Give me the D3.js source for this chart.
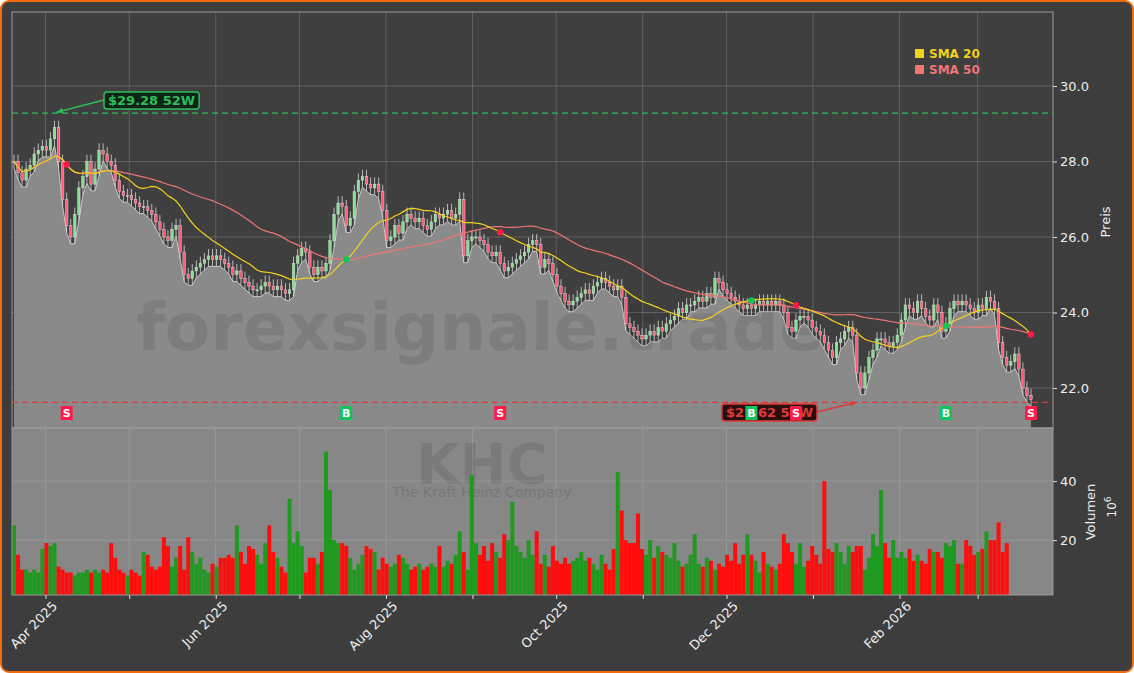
<!DOCTYPE html>
<html><head><meta charset="utf-8">
<script src="https://cdn.jsdelivr.net/npm/d3@7"></script>
<style>
body{margin:0;background:#fff;font-family:"DejaVu Sans",sans-serif}
</style></head><body><div id="wrap"></div>
<script>
// daily closes, 2025-03-20 .. 2026-03-20
var closes = [
28.0,27.7,27.5,27.8,27.9,28.2,28.3,28.4,28.3,28.6,
28.9,28.0,27.0,26.3,26.0,26.6,27.3,27.6,28.0,27.4,
27.8,28.3,28.2,28.0,27.9,27.5,27.2,27.1,27.1,27.0,
26.9,26.8,26.8,26.7,26.6,26.4,26.2,26.0,25.9,26.2,
26.3,25.6,25.0,24.9,25.1,25.2,25.3,25.4,25.5,25.4,
25.5,25.4,25.3,25.2,25.0,25.1,24.9,24.8,24.7,24.6,
24.6,24.7,24.8,24.7,24.6,24.7,24.6,24.5,24.6,25.3,
25.5,25.7,25.6,25.2,25.0,25.2,25.1,25.3,25.9,26.6,
26.9,26.8,26.3,26.5,27.2,27.5,27.6,27.4,27.3,27.4,
27.2,26.7,25.9,26.0,26.3,26.1,26.4,26.6,26.5,26.4,
26.5,26.3,26.2,26.4,26.6,26.5,26.6,26.7,26.5,26.6,
27.0,25.5,25.9,26.0,26.0,25.9,25.8,25.6,25.5,25.6,
25.3,25.1,25.2,25.3,25.4,25.5,25.6,25.8,25.9,25.8,
25.2,25.4,25.3,25.0,24.7,24.5,24.3,24.2,24.3,24.4,
24.5,24.6,24.5,24.7,24.8,24.9,24.8,24.7,24.6,24.7,
24.4,23.7,23.6,23.5,23.4,23.3,23.4,23.5,23.4,23.6,
23.5,23.7,23.8,23.9,24.1,24.0,24.2,24.2,24.3,24.4,
24.3,24.5,24.4,24.9,24.8,24.6,24.5,24.4,24.3,24.2,
24.1,24.2,24.1,24.2,24.3,24.2,24.3,24.2,24.3,24.2,
24.0,23.6,23.5,23.8,23.9,23.9,23.8,23.6,23.5,23.4,
23.2,23.0,22.8,23.2,23.3,23.5,23.6,23.4,22.4,22.0,
22.4,22.8,23.0,23.3,23.3,23.2,23.1,23.2,23.4,23.8,
24.2,24.1,24.0,24.3,24.1,23.9,23.8,24.2,24.0,23.5,
23.7,24.1,24.3,24.2,24.3,24.2,24.1,24.0,24.2,24.1,
24.4,24.3,24.1,23.2,22.8,22.6,22.7,22.9,22.5,22.0,
21.8,21.7];
// volume in millions
var volumes = [
25,15,10,10,9,10,9,17,19,18,
19,11,10,9,9,8,9,9,10,9,
10,9,10,9,19,14,10,9,8,10,
9,8,16,15,11,10,11,21,18,11,
14,18,10,21,16,12,14,10,9,12,
11,14,14,15,14,25,16,12,18,17,
15,12,19,25,16,14,11,9,34,19,
23,18,9,14,14,12,16,50,37,20,
19,19,18,14,10,12,15,18,17,16,
10,14,12,11,12,15,14,12,10,11,
12,10,11,12,11,18,11,13,12,15,
23,16,10,42,19,15,18,13,19,16,
14,22,20,33,18,16,14,20,15,23,
12,15,11,18,13,12,14,12,13,14,
16,13,14,12,10,15,12,10,17,43,
30,20,19,19,29,17,15,20,14,18,
16,15,14,19,13,11,12,15,22,12,
11,14,13,10,12,11,15,13,19,12,
15,22,15,13,9,16,12,11,10,12,
22,19,16,12,19,11,13,18,15,12,
40,17,16,19,16,12,18,16,18,18,
10,14,22,18,37,19,14,20,14,16,
14,17,13,15,13,12,17,16,16,14,
19,18,20,12,12,20,18,15,16,17,
23,20,20,26,16,19];
var signals = [
  {i:13,t:"S"},{i:82,t:"B"},{i:120,t:"S"},{i:182,t:"B"},{i:193,t:"S"},{i:230,t:"B"},{i:251,t:"S"}
];
var hi52 = 29.28, lo52 = 21.62;
var priceTicks = [22,24,26,28,30];
var volTicks = [20,40];
var monthLabels = {"2025-4":"Apr 2025","2025-6":"Jun 2025","2025-8":"Aug 2025","2025-10":"Oct 2025","2025-12":"Dec 2025","2026-2":"Feb 2026"};

var W = 1134, H = 673;
var L = 12, R = 1053, PT = 12, PB = 428, VB = 595;
var svg = d3.select("#wrap").append("svg").attr("width", W).attr("height", H).style("display","block");
svg.append("rect").attr("x",1).attr("y",1).attr("width",W-2).attr("height",H-2).attr("rx",8)
  .attr("fill","#3d3d3d").attr("stroke","#f26b0f").attr("stroke-width",2);

var data = closes.map(function(c, i){
  var o = i ? closes[i-1] : c;
  return {i:i, o:o, c:c, h:Math.max(o,c)+0.18, l:Math.min(o,c)-0.18, v:volumes[i]};
});
function sma(n){ return data.map(function(d,i){
  if (i < n-1) { var s = closes.slice(0,i+1); return d3.mean(s); }
  return d3.mean(closes.slice(i-n+1,i+1)); }); }
var s20 = sma(20), s50 = sma(50);

var x = d3.scaleLinear().domain([0, closes.length-1]).range([14, 1031]);
var xt = d3.scaleTime().domain([new Date(2025,2,20), new Date(2026,2,28)]).range([L, R]);
var y = d3.scaleLinear().domain([20.94, 31.96]).range([PB, PT]);
var yv = d3.scaleLinear().domain([1.4, 58]).range([VB, PB]);
var months = xt.ticks(d3.timeMonth.every(1));

svg.append("rect").attr("x",L).attr("y",PT).attr("width",R-L).attr("height",PB-PT).attr("fill","#3f3f3f");
svg.append("rect").attr("x",L).attr("y",PB).attr("width",R-L).attr("height",VB-PB).attr("fill","#878787");

var grid = svg.append("g").attr("stroke","#6a6a6a").attr("stroke-width",0.8);
priceTicks.forEach(function(t){ grid.append("line").attr("x1",L).attr("x2",R).attr("y1",y(t)).attr("y2",y(t)); });
months.forEach(function(t){ grid.append("line").attr("x1",xt(t)).attr("x2",xt(t)).attr("y1",PT).attr("y2",PB); });

// area
svg.append("path").datum(data)
  .attr("d", d3.area().x(function(d){return x(d.i);}).y0(PB).y1(function(d){return y(d.l);}))
  .attr("fill","#8a8a8a");
svg.append("path").datum(data)
  .attr("d", d3.line().x(function(d){return x(d.i);}).y(function(d){return y(d.l);}))
  .attr("fill","none").attr("stroke","#c8c8c8").attr("stroke-width",1);

var vg = svg.append("g").attr("stroke","#9a9a9a").attr("stroke-width",0.8);
volTicks.forEach(function(t){ vg.append("line").attr("x1",L).attr("x2",R).attr("y1",yv(t)).attr("y2",yv(t)); });
months.forEach(function(t){ vg.append("line").attr("x1",xt(t)).attr("x2",xt(t)).attr("y1",PB).attr("y2",VB); });

// watermark
svg.append("text").attr("x",480).attr("y",350).attr("text-anchor","middle")
  .attr("font-size",66).attr("font-weight","bold").attr("fill","#000").attr("opacity",0.09).text("forexsignale.trade");
svg.append("text").attr("x",482).attr("y",483).attr("text-anchor","middle")
  .attr("font-size",56).attr("font-weight","bold").attr("fill","#000").attr("opacity",0.09).text("KHC");
svg.append("text").attr("x",482).attr("y",497).attr("text-anchor","middle")
  .attr("font-size",14).attr("fill","#000").attr("opacity",0.12).text("The Kraft Heinz Company");

// 52W lines
svg.append("line").attr("x1",L).attr("x2",R).attr("y1",y(hi52)).attr("y2",y(hi52))
  .attr("stroke","#2ebd5a").attr("stroke-width",1.3).attr("stroke-dasharray","6,4");
svg.append("line").attr("x1",L).attr("x2",R).attr("y1",y(lo52)).attr("y2",y(lo52))
  .attr("stroke","#e03a3a").attr("stroke-width",1.3).attr("stroke-dasharray","6,4");

// candles
var bw = 2.6;
var cg = svg.append("g");
cg.selectAll("line").data(data).join("line")
  .attr("x1",function(d){return x(d.i);}).attr("x2",function(d){return x(d.i);})
  .attr("y1",function(d){return y(d.h);}).attr("y2",function(d){return y(d.l);})
  .attr("stroke","#d8d8d8").attr("stroke-width",0.8);
cg.selectAll("rect").data(data).join("rect")
  .attr("x",function(d){return x(d.i)-bw/2;}).attr("width",bw)
  .attr("y",function(d){return y(Math.max(d.o,d.c));})
  .attr("height",function(d){return Math.max(1, Math.abs(y(d.o)-y(d.c)));})
  .attr("fill",function(d){return d.c>=d.o ? "#86e08f" : "#ff5a78";})
  .attr("stroke","#e6e6e6").attr("stroke-width",0.4);

// SMAs
var ln = d3.line().x(function(d,i){return x(i);}).y(function(d){return y(d);});
svg.append("path").datum(s50).attr("d",ln).attr("fill","none").attr("stroke","#f07575").attr("stroke-width",1.2);
svg.append("path").datum(s20).attr("d",ln).attr("fill","none").attr("stroke","#f2d21b").attr("stroke-width",1.2);

signals.forEach(function(s){
  var col = s.t==="B" ? "#12c45a" : "#ff1a4a";
  svg.append("circle").attr("cx",x(s.i)).attr("cy",y(s20[s.i])).attr("r",3.2).attr("fill",col);
});

// 52W labels
function label(txt, bx, by, ax, ay, col, bg){
  svg.append("line").attr("x1",bx).attr("y1",by+8).attr("x2",ax).attr("y2",ay)
    .attr("stroke",col).attr("stroke-width",1.5);
  var ang = Math.atan2(ay-(by+8), ax-bx);
  var p = [[ax,ay],[ax-7*Math.cos(ang-0.4),ay-7*Math.sin(ang-0.4)],[ax-7*Math.cos(ang+0.4),ay-7*Math.sin(ang+0.4)]];
  svg.append("path").attr("d","M"+p.join("L")+"Z").attr("fill",col);
  var t = svg.append("text").attr("x",0).attr("y",0).attr("font-size",13).attr("font-weight","bold")
    .attr("fill",col).text(txt);
  var w = t.node().getComputedTextLength();
  var rx = ax < bx ? bx : bx - w - 8;
  svg.insert("rect", function(){ return t.node(); })
    .attr("x",rx).attr("y",by).attr("width",w+8).attr("height",17).attr("rx",3)
    .attr("fill",bg).attr("stroke",col).attr("stroke-width",1.5);
  t.attr("x",rx+4).attr("y",by+13);
}
label("$29.28 52W", 104, 92, x(10)+2, y(hi52)-1, "#2ebd5a", "#0f2417");
label("$21.62 52W", 817, 404, x(208), y(lo52), "#e03a3a", "#2a0f10");

signals.forEach(function(s){
  var col = s.t==="B" ? "#12c45a" : "#ff1a4a";
  svg.append("rect").attr("x",x(s.i)-6).attr("y",406).attr("width",12).attr("height",14).attr("fill",col);
  svg.append("text").attr("x",x(s.i)).attr("y",417).attr("text-anchor","middle")
    .attr("font-size",11).attr("font-weight","bold").attr("fill","#fff").text(s.t);
});

// volume bars
svg.append("g").selectAll("rect").data(data).join("rect")
  .attr("x",function(d){return x(d.i)-2;}).attr("width",4)
  .attr("y",function(d){return yv(d.v);}).attr("height",function(d){return VB-yv(d.v);})
  .attr("fill",function(d){return d.c>=d.o ? "#1e9a1e" : "#ff0d0d";});

// frames
svg.append("rect").attr("x",L).attr("y",PT).attr("width",R-L).attr("height",PB-PT).attr("fill","none").attr("stroke","#9a9a9a");
svg.append("rect").attr("x",L).attr("y",PB).attr("width",R-L).attr("height",VB-PB).attr("fill","none").attr("stroke","#9a9a9a");

// axes
var ay = svg.append("g").attr("transform","translate("+R+",0)")
  .call(d3.axisRight(y).tickValues(priceTicks).tickFormat(d3.format(".1f")).tickSize(4));
var av = svg.append("g").attr("transform","translate("+R+",0)")
  .call(d3.axisRight(yv).tickValues(volTicks).tickSize(4));
var ax = svg.append("g").attr("transform","translate(0,"+VB+")")
  .call(d3.axisBottom(xt).tickValues(months)
    .tickFormat(function(d){return monthLabels[d.getFullYear()+"-"+(d.getMonth()+1)] || "";}).tickSize(4));
[ay,av,ax].forEach(function(g){
  g.select(".domain").remove();
  g.selectAll("line").attr("stroke","#ddd");
  g.selectAll("text").attr("fill","#eee").attr("font-size",13).attr("font-family","DejaVu Sans");
});
ax.selectAll("text").attr("text-anchor","end").attr("x",12).attr("y",12).attr("dy",0)
  .attr("transform","rotate(-45,12,12)");

svg.append("text").attr("transform","translate(1110,222) rotate(-90)").attr("text-anchor","middle")
  .attr("font-size",13).attr("fill","#eee").text("Preis");
svg.append("text").attr("transform","translate(1095,512) rotate(-90)").attr("text-anchor","middle")
  .attr("font-size",13).attr("fill","#eee").text("Volumen");
svg.append("text").attr("transform","translate(1116,507) rotate(-90)").attr("text-anchor","middle")
  .attr("font-size",12).attr("fill","#eee").text("10").append("tspan").attr("dy",-5).attr("font-size",9).text("6");

// legend
[["SMA 20","#f2d21b"],["SMA 50","#f07575"]].forEach(function(e,i){
  svg.append("rect").attr("x",915).attr("y",49+i*16).attr("width",9).attr("height",9).attr("fill",e[1]);
  svg.append("text").attr("x",929).attr("y",58+i*16).attr("font-size",12).attr("font-weight","bold")
    .attr("fill",e[1]).text(e[0]);
});
</script></body></html>
